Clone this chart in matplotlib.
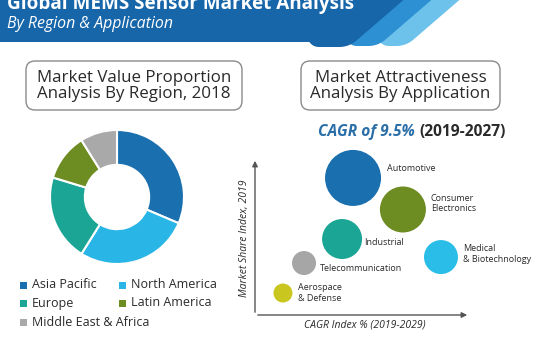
import numpy as np
import matplotlib
matplotlib.use("Agg")
import matplotlib.pyplot as plt
from matplotlib.patches import FancyBboxPatch, Polygon, Rectangle

plt.rcParams['font.family'] = ['Open Sans', 'DejaVu Sans']

# donut data (share of market value, %)
regions = ['Asia Pacific', 'North America', 'Europe', 'Latin America', 'Middle East & Africa']
region_share = [31.4, 27.5, 20.8, 11.4, 8.9]
region_colors = ['#1a6faf', '#29b5e5', '#1ba595', '#6d8c22', '#a9a9a9']

# bubble data
applications = ['Automotive', 'Consumer\nElectronics', 'Industrial', 'Medical\n& Biotechnology',
                'Telecommunication', 'Aerospace\n& Defense']
cagr_index = [4.56, 6.88, 4.05, 8.65, 2.28, 1.30]
share_index = [8.73, 6.72, 4.84, 3.69, 3.31, 1.40]
bubble_size = [1626, 1097, 829, 599, 299, 187]
app_colors = ['#1a6faf', '#6d8c22', '#1ba595', '#29bde8', '#a6a6a6', '#c9c61f']
label_offsets = [(34, 9), (28, 6), (22, -3), (22, 3), (16, -5), (15, 0)]

txt = '#2a2a2a'


def fillet(p, a, b, r, n=12):
    # round the corner p whose edges leave along unit vectors a and b
    p, a, b = np.array(p, float), np.array(a, float), np.array(b, float)
    half = np.arccos(np.clip(a @ b, -1, 1)) / 2
    t1, t2 = p + a * r / np.tan(half), p + b * r / np.tan(half)
    bis = (a + b) / np.linalg.norm(a + b)
    c = p + bis * r / np.sin(half)
    s, e = np.arctan2(*(t1 - c)[::-1]), np.arctan2(*(t2 - c)[::-1])
    d = (e - s + np.pi) % (2 * np.pi) - np.pi
    ang = s + d * np.linspace(0, 1, n)
    return np.column_stack([c[0] + r * np.cos(ang), c[1] + r * np.sin(ang)])


def band(xl, xr, yb, rl, rr, k=1.16, top=-10):
    up = np.array([k, -1.0]) / np.hypot(k, 1)
    left = fillet((xl, yb), up, (1, 0), rl)
    right = fillet((xr, yb), (-1, 0), up, rr)
    return np.vstack([[(xl + k * (yb - top), top)], left, right,
                      [(xr + k * (yb - top), top)]])


fig = plt.figure(figsize=(5.4, 3.37), dpi=100)
fig.patch.set_facecolor('white')

# canvas in pixel coords for header, boxes and loose text
cv = fig.add_axes([0, 0, 1, 1])
cv.set_xlim(0, 540)
cv.set_ylim(337, 0)
cv.axis('off')

# header bands
for xl, xr, yb, col in [(359, 406, 46, '#6cc2ea'), (327, 378, 46, '#2d90d2'),
                        (289, 349, 47, '#1866aa')]:
    cv.add_patch(Polygon(band(xl, xr, yb, 11, 26), closed=True, facecolor=col,
                         edgecolor='none', zorder=1))
cv.add_patch(Polygon([(0, -10), (380, -10), (318, 42), (0, 42)], closed=True,
                     facecolor='#1866aa', edgecolor='none', zorder=2))
cv.text(7, 8.5, 'Global MEMS Sensor Market Analysis', color='white', fontsize=13.6,
        fontweight='bold', va='baseline', ha='left', zorder=3)
cv.text(7, 28, 'By Region & Application', color='white', fontsize=11.4,
        style='italic', va='baseline', ha='left', zorder=3)

# title boxes
for x0, w, lines in [(26, 216, 'Market Value Proportion\nAnalysis By Region, 2018'),
                     (301, 199, 'Market Attractiveness\nAnalysis By Application')]:
    cv.add_patch(FancyBboxPatch((x0, 61), w, 49, boxstyle='round,pad=0,rounding_size=9',
                                facecolor='white', edgecolor='#8a8a8a', lw=1))
    cv.text(x0 + w / 2, 86, lines, ha='center', va='center', fontsize=12.2,
            color=txt, linespacing=1.05)

# CAGR headline
cv.text(415, 132, 'CAGR of 9.5%', ha='right', va='center', fontsize=11.2,
        fontweight='bold', style='italic', color='#2a6ea8')
cv.text(419, 132, '(2019-2027)', ha='left', va='center', fontsize=11.2,
        fontweight='bold', color=txt)

# legend for donut
leg_pos = [(20, 285), (119, 285), (20, 303), (119, 303), (20, 322)]
for (lx, ly), name, col in zip(leg_pos, regions, region_colors):
    cv.add_patch(Rectangle((lx, ly - 3.5), 7, 7, facecolor=col, edgecolor='none'))
    cv.text(lx + 12, ly, name, ha='left', va='center', fontsize=9, color=txt)

# axis titles
cv.text(245, 238, 'Market Share Index, 2019', rotation=90, ha='center', va='center',
        fontsize=7.5, style='italic', color=txt)
cv.text(365, 325, 'CAGR Index % (2019-2029)', ha='center', va='center',
        fontsize=7.5, style='italic', color=txt)

# donut
pa = fig.add_axes([(117 - 67) / 540, 1 - (197 + 67) / 337, 134 / 540, 134 / 337])
pa.pie(region_share, colors=region_colors, startangle=90, counterclock=False,
       wedgeprops=dict(width=0.52, edgecolor='white', linewidth=1.5))
pa.set_xlim(-1, 1)
pa.set_ylim(-1, 1)

# bubble chart
ba = fig.add_axes([255 / 540, 1 - 315 / 337, 215 / 540, 157 / 337])
ba.set_xlim(0, 10)
ba.set_ylim(0, 10)
ba.axis('off')
ba.scatter(cagr_index, share_index, s=bubble_size, c=app_colors, edgecolors='none',
           zorder=3, clip_on=False)
for name, x, y, off in zip(applications, cagr_index, share_index, label_offsets):
    ba.annotate(name, (x, y), xytext=off, textcoords='offset pixels', ha='left',
                va='center', fontsize=6.5, color=txt, linespacing=1.2)
ba.annotate('', xy=(0, 1), xytext=(0, 0), xycoords='axes fraction',
            arrowprops=dict(arrowstyle='-|>', color='#555555', lw=1, mutation_scale=8))
ba.annotate('', xy=(1, 0), xytext=(0, 0), xycoords='axes fraction',
            arrowprops=dict(arrowstyle='-|>', color='#555555', lw=1, mutation_scale=8))

fig.savefig('out.png', dpi=100)
